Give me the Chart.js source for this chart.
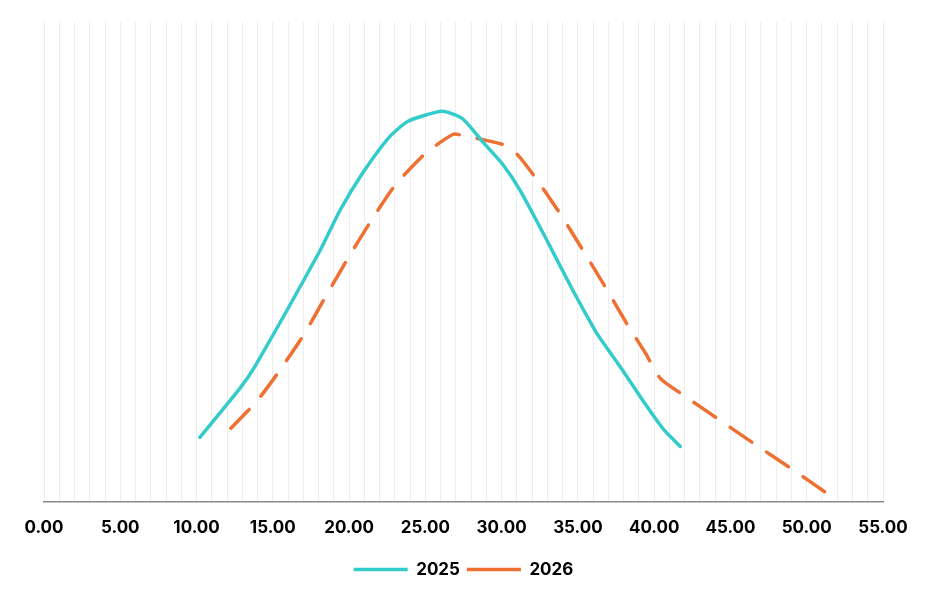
<!DOCTYPE html>
<html>
<head>
<meta charset="utf-8">
<script src="https://cdn.jsdelivr.net/npm/chart.js@4"></script>
<style>
  html, body { margin: 0; padding: 0; background: #fff; }
  #wrap { width: 933px; height: 600px; }
</style>
</head>
<body>
<div id="wrap"><canvas id="chart"></canvas></div>
<script>
// values (x, relative height)
const x2025 = [10.22, 12.84, 13.83, 18.09, 19.40, 20.91, 22.55, 23.86, 26.10, 27.41, 28.79, 30.03, 31.21, 32.98, 34.69, 36.14, 36.66, 37.97, 39.29, 40.60, 41.71];
const y2025 = [13.4, 23.6, 28.2, 52.3, 60.7, 68.6, 75.7, 79.3, 81.4, 79.9, 74.9, 70.5, 64.9, 54.4, 43.9, 35.6, 33.1, 27.2, 20.9, 15.1, 11.5];

const x2026 = [12.25, 13.94, 15.33, 16.97, 18.42, 19.86, 21.37, 23.00, 25.00, 26.82, 27.41, 28.46, 30.23, 31.08, 32.20, 33.84, 35.35, 36.86, 38.30, 39.42, 40.40, 41.91, 44.20, 46.63, 49.07, 51.42];
const y2026 = [15.3, 20.9, 26.8, 34.5, 42.5, 50.4, 58.2, 65.9, 72.6, 76.6, 76.4, 75.7, 74.3, 72.2, 67.6, 60.0, 52.3, 44.4, 36.6, 31.0, 25.7, 22.2, 17.2, 11.9, 6.7, 1.5];

const xTickLabels = ['0.00', '5.00', '10.00', '15.00', '20.00', '25.00', '30.00', '35.00', '40.00', '45.00', '50.00', '55.00'];
const seriesNames = ['2025', '2026'];

function pts(xs, ys) {
  return xs.map((x, i) => ({ x: x, y: ys[i] }));
}

Chart.defaults.font.family = 'Inter, "DejaVu Sans", sans-serif';
Chart.defaults.color = '#000';

new Chart(document.getElementById('chart'), {
  type: 'line',
  data: {
    datasets: [{
      label: seriesNames[0],
      data: pts(x2025, y2025),
      borderColor: '#33CCCA',
      backgroundColor: '#33CCCA',
      borderWidth: 3.5,
      borderCapStyle: 'round',
      borderJoinStyle: 'round',
      pointRadius: 0,
      tension: 0.2,
      fill: false
    }, {
      label: seriesNames[1],
      data: pts(x2026, y2026),
      borderColor: '#EE7033',
      backgroundColor: '#EE7033',
      borderWidth: 3.5,
      borderDash: [26, 18],
      borderCapStyle: 'round',
      borderJoinStyle: 'round',
      pointRadius: 0,
      tension: 0.2,
      fill: false
    }]
  },
  options: {
    responsive: true,
    maintainAspectRatio: false,
    animation: false,
    layout: {
      padding: { left: 44, right: 50, top: 22, bottom: 12 }
    },
    scales: {
      x: {
        type: 'linear',
        min: 0,
        max: 55,
        grid: {
          color: '#eeeeee',
          lineWidth: 1,
          drawTicks: false
        },
        border: {
          display: true,
          color: '#8a8a8a',
          width: 1.5
        },
        ticks: {
          stepSize: 1,
          autoSkip: false,
          maxRotation: 0,
          padding: 16,
          font: { size: 17, weight: 'bold' },
          callback: function (value) {
            return value % 5 === 0 ? xTickLabels[value / 5] : '';
          }
        }
      },
      y: {
        display: false,
        min: 0,
        max: 100
      }
    },
    plugins: {
      legend: {
        position: 'bottom',
        labels: {
          usePointStyle: true,
          pointStyle: 'line',
          pointStyleWidth: 54,
          boxWidth: 54,
          padding: 7,
          font: { size: 17, weight: 'bold' }
        }
      },
      tooltip: { enabled: false }
    }
  }
});
</script>
</body>
</html>
